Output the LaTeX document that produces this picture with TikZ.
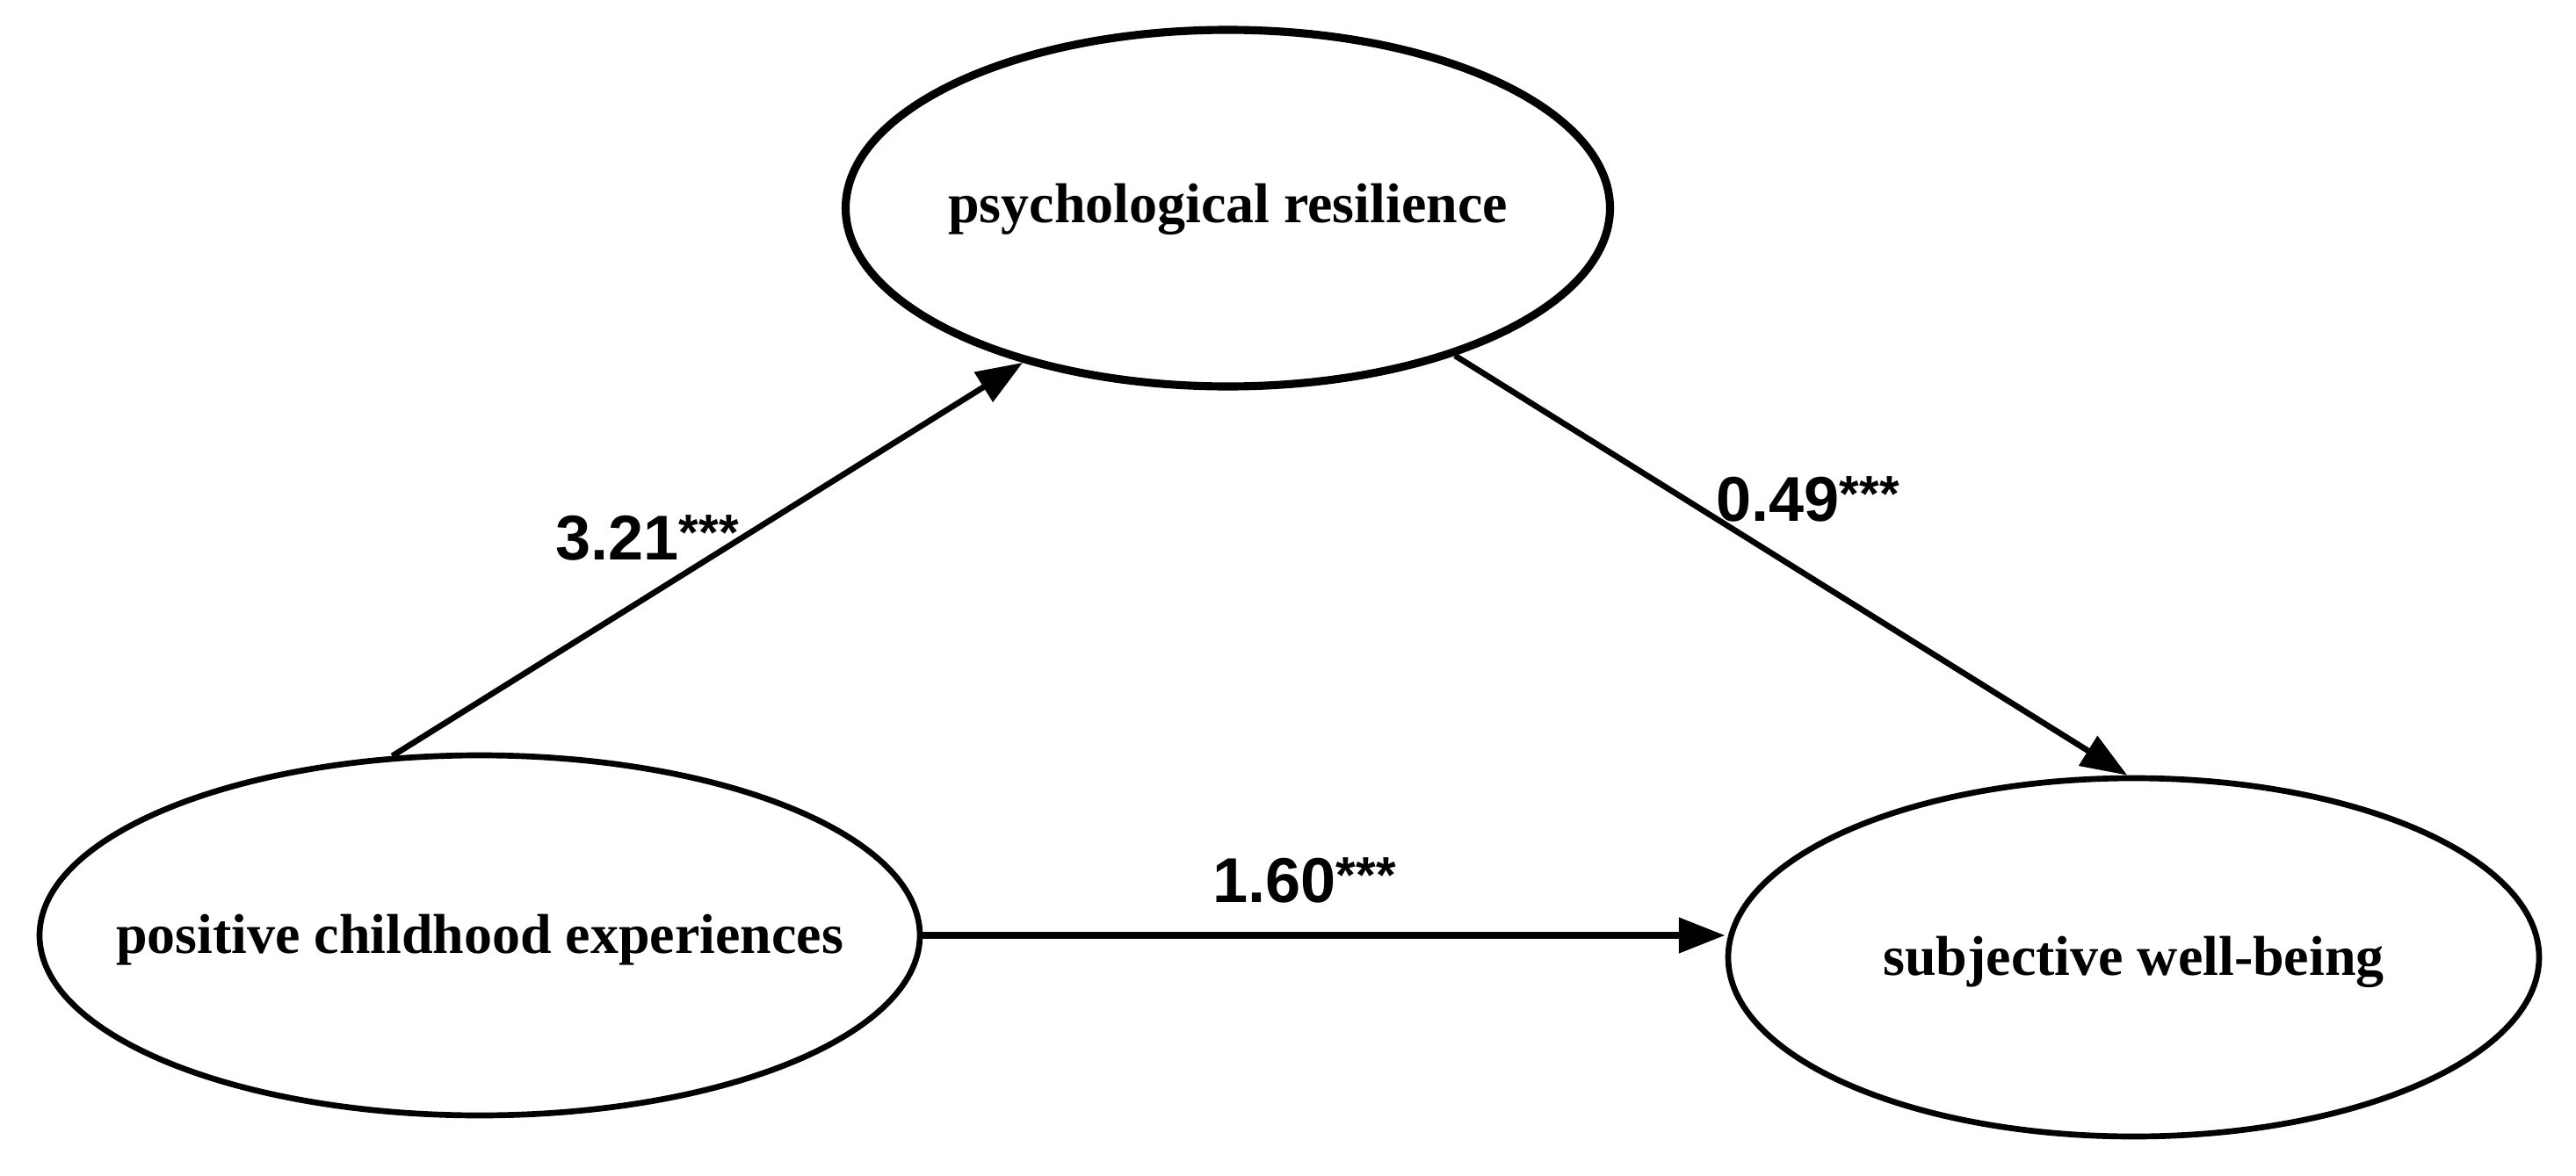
\documentclass[tikz,border=0pt]{standalone}
\usepackage{fontspec}
\setmainfont{Liberation Serif}
\newfontfamily\lblfont{Liberation Sans}
\usetikzlibrary{shapes.geometric,arrows.meta}
\newcommand\sigstars{\raisebox{3pt}{\fontsize{16.5}{16.5}\selectfont ***}}
\begin{document}
\begin{tikzpicture}[
  latent/.style={draw=black, ellipse, inner sep=0pt},
  lbl/.style={inner sep=0pt, anchor=base, font=\fontsize{18.2}{22}\selectfont\bfseries},
  pathline/.style={line width=1.9pt, -{Triangle[length=15pt,width=11pt]}},
  coef/.style={anchor=base west, inner sep=0pt, font=\lblfont\fontsize{20.5}{24}\selectfont\bfseries}
]
\useasboundingbox[fill=white] (0,0) rectangle (29.32,13.38);
\node[latent, line width=2.6pt, minimum width=8.70cm, minimum height=4.06cm] (pr) at (13.975,11.01) {};
\node[latent, line width=1.9pt, minimum width=10.02cm, minimum height=4.10cm] (pce) at (5.46,2.73) {};
\node[latent, line width=1.9pt, minimum width=9.23cm, minimum height=4.08cm] (swb) at (24.285,2.48) {};
\node[lbl] (prt) at ([yshift=-0.16cm]pr.center) {psychological resilience};
\node[lbl] (pcet) at ([yshift=-0.20cm]pce.center) {positive childhood experiences};
\node[lbl] (swbt) at ([yshift=-0.20cm]swb.center) {subjective well-being};
\coordinate (h) at (pce.east -| swb.west);
\draw[pathline] (pce.116) -- (pr.217);
\draw[pathline] (pr.-33) -- (swb.92);
\draw[pathline, line width=2.4pt] (pce.east) -- (h);
\node[coef] (a) at (6.32,7.01) {3.21\sigstars};
\node[coef] (b) at (19.53,7.45) {0.49\sigstars};
\node[coef] (c) at (13.80,3.11) {1.60\sigstars};
\end{tikzpicture}
\end{document}
